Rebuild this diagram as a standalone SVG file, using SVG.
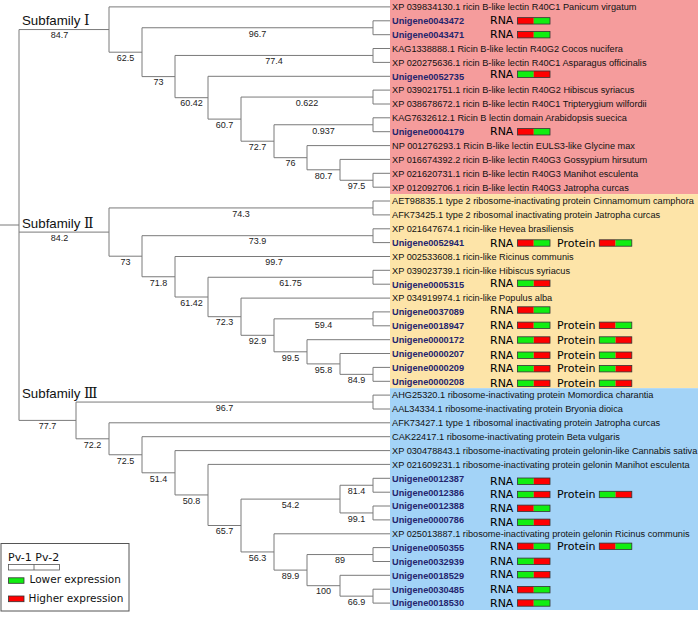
<svg xmlns="http://www.w3.org/2000/svg" xmlns:xlink="http://www.w3.org/1999/xlink" width="700" height="620" viewBox="0 0 700 620">
<style>
.lbl{font-family:"Liberation Sans",Arial,sans-serif;font-size:9.2px;fill:#111}
.ug{font-weight:bold;fill:#25256e}
.bs{font-family:"Liberation Sans",Arial,sans-serif;font-size:9px;fill:#222;text-anchor:middle}
.ex{font-family:"DejaVu Sans",Verdana,sans-serif;font-size:11px;fill:#000}
.sf{font-family:"Liberation Sans","Noto Sans CJK SC",sans-serif;font-size:13.3px;fill:#111}
.rn{font-family:"DejaVu Serif","Liberation Serif","Noto Sans CJK SC",serif;font-size:14px}
.lg{font-family:"DejaVu Sans",Verdana,sans-serif;font-size:10.5px;fill:#111}
.br{fill:none;stroke:#7a7a7a;stroke-width:1}
</style>
<defs>
<g id="rg"><rect x="0" y="0" width="16.25" height="6.4" fill="#f00"/><rect x="16.25" y="0" width="16.25" height="6.4" fill="#11ee11"/><rect x="0" y="0" width="32.5" height="6.4" fill="none" stroke="#333" stroke-width="0.8"/></g>
<g id="gr"><rect x="0" y="0" width="16.25" height="6.4" fill="#11ee11"/><rect x="16.25" y="0" width="16.25" height="6.4" fill="#f00"/><rect x="0" y="0" width="32.5" height="6.4" fill="none" stroke="#333" stroke-width="0.8"/></g>
</defs>
<rect width="700" height="620" fill="#fff"/>
<g id="backgrounds">
<rect x="390" y="0" width="308" height="194.1" fill="#f59c9c"/>
<rect x="390" y="194.1" width="308" height="194.1" fill="#fde4a8"/>
<rect x="390" y="388.2" width="308" height="221.8" fill="#a3d3f7"/>
</g>
<g id="connectors" class="br">
<path d="M0,225H19M19,29.55V420.4M19,29.55H109M19,232.1H109M19,420.4H76"/>
<path d="M109,6.9V52.2M109,6.9H390M109,52.2H142"/>
<path d="M142,27.75V76.6M142,27.75H373M142,76.6H175"/>
<path d="M373,20.8V34.7M373,20.8H390M373,34.7H390"/>
<path d="M175,55.45V97.7M175,55.45H373M175,97.7H208"/>
<path d="M373,48.5V62.4M373,48.5H390M373,62.4H390"/>
<path d="M208,76.3V119.1M208,76.3H390M208,119.1H241"/>
<path d="M241,97.05V141.2M241,97.05H373M241,141.2H274"/>
<path d="M373,90.1V104M373,90.1H390M373,104H390"/>
<path d="M274,124.75V157.7M274,124.75H373M274,157.7H307"/>
<path d="M373,117.8V131.7M373,117.8H390M373,131.7H390"/>
<path d="M307,145.6V169.8M307,145.6H390M307,169.8H340"/>
<path d="M340,159.4V180.25M340,159.4H390M340,180.25H373"/>
<path d="M373,173.3V187.2M373,173.3H390M373,187.2H390"/>
<path d="M109,207.95V256.2M109,207.95H373M109,256.2H142"/>
<path d="M373,201V214.9M373,201H390M373,214.9H390"/>
<path d="M142,235.7V276.75M142,235.7H373M142,276.75H175"/>
<path d="M373,228.8V242.6M373,228.8H390M373,242.6H390"/>
<path d="M175,256.5V297M175,256.5H390M175,297H208"/>
<path d="M208,277.25V316.7M208,277.25H373M208,316.7H241"/>
<path d="M373,270.3V284.2M373,270.3H390M373,284.2H390"/>
<path d="M241,298.1V335.3M241,298.1H390M241,335.3H274"/>
<path d="M274,318.85V351.8M274,318.85H373M274,351.8H307"/>
<path d="M373,311.9V325.8M373,311.9H390M373,325.8H390"/>
<path d="M307,339.7V363.9M307,339.7H390M307,363.9H340"/>
<path d="M340,353.5V374.35M340,353.5H390M340,374.35H373"/>
<path d="M373,367.4V381.3M373,367.4H390M373,381.3H390"/>
<path d="M76,402.05V438.8M76,402.05H373M76,438.8H109"/>
<path d="M373,395.1V409M373,395.1H390M373,409H390"/>
<path d="M109,422.8V454.75M109,422.8H390M109,454.75H142"/>
<path d="M142,436.7V472.8M142,436.7H390M142,472.8H175"/>
<path d="M175,450.6V494.95M175,450.6H390M175,494.95H208"/>
<path d="M208,464.4V525.5M208,464.4H390M208,525.5H241"/>
<path d="M241,499.1V551.95M241,499.1H340M241,551.95H274"/>
<path d="M340,485.25V512.95M340,485.25H373M340,512.95H373"/>
<path d="M373,478.3V492.2M373,478.3H390M373,492.2H390"/>
<path d="M373,506V519.9M373,506H390M373,519.9H390"/>
<path d="M274,533.8V570.1M274,533.8H390M274,570.1H307"/>
<path d="M307,554.55V585.7M307,554.55H373M307,585.7H340"/>
<path d="M373,547.6V561.5M373,547.6H390M373,561.5H390"/>
<path d="M340,575.3V596.15M340,575.3H390M340,596.15H373"/>
<path d="M373,589.2V603.1M373,589.2H390M373,603.1H390"/>
</g>
<g id="support-values" class="bs">
<text x="59.5" y="38.3">84.7</text>
<text x="125.5" y="60.9">62.5</text>
<text x="257.5" y="36.5">96.7</text>
<text x="158.5" y="85.3">73</text>
<text x="274" y="64.2">77.4</text>
<text x="191.5" y="106.4">60.42</text>
<text x="224.5" y="127.8">60.7</text>
<text x="307" y="105.8">0.622</text>
<text x="257.5" y="149.9">72.7</text>
<text x="323.5" y="133.5">0.937</text>
<text x="290.5" y="166.4">76</text>
<text x="323.5" y="178.5">80.7</text>
<text x="356.5" y="189">97.5</text>
<text x="59.5" y="240.8">84.2</text>
<text x="241" y="216.7">74.3</text>
<text x="125.5" y="264.9">73</text>
<text x="257.5" y="244.4">73.9</text>
<text x="158.5" y="285.5">71.8</text>
<text x="274" y="265.2">99.7</text>
<text x="191.5" y="305.7">61.42</text>
<text x="290.5" y="286">61.75</text>
<text x="224.5" y="325.4">72.3</text>
<text x="257.5" y="344">92.9</text>
<text x="323.5" y="327.6">59.4</text>
<text x="290.5" y="360.5">99.5</text>
<text x="323.5" y="372.6">95.8</text>
<text x="356.5" y="383.1">84.9</text>
<text x="47.5" y="429.1">77.7</text>
<text x="224.5" y="410.8">96.7</text>
<text x="92.5" y="447.5">72.2</text>
<text x="125.5" y="463.5">72.5</text>
<text x="158.5" y="481.5">51.4</text>
<text x="191.5" y="503.7">50.8</text>
<text x="224.5" y="534.2">65.7</text>
<text x="290.5" y="507.8">54.2</text>
<text x="356.5" y="494">81.4</text>
<text x="356.5" y="521.7">99.1</text>
<text x="257.5" y="560.7">56.3</text>
<text x="290.5" y="578.8">89.9</text>
<text x="340" y="563.3">89</text>
<text x="323.5" y="594.4">100</text>
<text x="356.5" y="604.9">66.9</text>
</g>
<g id="subfamilies" class="sf">
<text x="22" y="25">Subfamily <tspan class="rn">Ⅰ</tspan></text>
<text x="22" y="228">Subfamily <tspan class="rn">Ⅱ</tspan></text>
<text x="22" y="398">Subfamily <tspan class="rn">Ⅲ</tspan></text>
</g>
<g id="leaves" class="lbl">
<g id="leaf-XP039834130"><text x="392" y="10.2">XP 039834130.1 ricin B-like lectin R40C1 Panicum virgatum</text></g>
<g id="leaf-Unigene0043472"><text class="ug" x="392" y="24.1">Unigene0043472</text><text class="ex" x="490" y="24.4">RNA</text><use xlink:href="#rg" x="517.5" y="17.65"/></g>
<g id="leaf-Unigene0043471"><text class="ug" x="392" y="38">Unigene0043471</text><text class="ex" x="490" y="38.2">RNA</text><use xlink:href="#rg" x="517.5" y="31.5"/></g>
<g id="leaf-KAG1338888"><text x="392" y="51.8">KAG1338888.1 Ricin B-like lectin R40G2 Cocos nucifera</text></g>
<g id="leaf-XP020275636"><text x="392" y="65.7">XP 020275636.1 ricin B-like lectin R40C1 Asparagus officinalis</text></g>
<g id="leaf-Unigene0052735"><text class="ug" x="392" y="79.6">Unigene0052735</text><text class="ex" x="490" y="77.7">RNA</text><use xlink:href="#gr" x="517.5" y="71"/></g>
<g id="leaf-XP039021751"><text x="392" y="93.4">XP 039021751.1 ricin B-like lectin R40G2 Hibiscus syriacus</text></g>
<g id="leaf-XP038678672"><text x="392" y="107.3">XP 038678672.1 ricin B-like lectin R40C1 Tripterygium wilfordii</text></g>
<g id="leaf-KAG7632612"><text x="392" y="121.1">KAG7632612.1 Ricin B lectin domain Arabidopsis suecica</text></g>
<g id="leaf-Unigene0004179"><text class="ug" x="392" y="135">Unigene0004179</text><text class="ex" x="490" y="135.3">RNA</text><use xlink:href="#rg" x="517.5" y="128.6"/></g>
<g id="leaf-NP001276293"><text x="392" y="148.9">NP 001276293.1 Ricin B-like lectin EULS3-like Glycine max</text></g>
<g id="leaf-XP016674392"><text x="392" y="162.7">XP 016674392.2 ricin B-like lectin R40G3 Gossypium hirsutum</text></g>
<g id="leaf-XP021620731"><text x="392" y="176.6">XP 021620731.1 ricin B-like lectin R40G3 Manihot esculenta</text></g>
<g id="leaf-XP012092706"><text x="392" y="190.5">XP 012092706.1 ricin B-like lectin R40G3 Jatropha curcas</text></g>
<g id="leaf-AET98835"><text x="392" y="204.3">AET98835.1 type 2 ribosome-inactivating protein Cinnamomum camphora</text></g>
<g id="leaf-AFK73425"><text x="392" y="218.2">AFK73425.1 type 2 ribosomal inactivating protein Jatropha curcas</text></g>
<g id="leaf-XP021647674"><text x="392" y="232.1">XP 021647674.1 ricin-like Hevea brasiliensis</text></g>
<g id="leaf-Unigene0052941"><text class="ug" x="392" y="245.9">Unigene0052941</text><text class="ex" x="490" y="246.5">RNA</text><use xlink:href="#rg" x="517.5" y="239.8"/><text class="ex" x="557" y="246.5">Protein</text><use xlink:href="#rg" x="599.3" y="239.8"/></g>
<g id="leaf-XP002533608"><text x="392" y="259.8">XP 002533608.1 ricin-like Ricinus communis</text></g>
<g id="leaf-XP039023739"><text x="392" y="273.6">XP 039023739.1 ricin-like Hibiscus syriacus</text></g>
<g id="leaf-Unigene0005315"><text class="ug" x="392" y="287.5">Unigene0005315</text><text class="ex" x="490" y="286.8">RNA</text><use xlink:href="#gr" x="517.5" y="280.1"/></g>
<g id="leaf-XP034919974"><text x="392" y="301.4">XP 034919974.1 ricin-like Populus alba</text></g>
<g id="leaf-Unigene0037089"><text class="ug" x="392" y="315.2">Unigene0037089</text><text class="ex" x="490" y="313.5">RNA</text><use xlink:href="#rg" x="517.5" y="306.8"/></g>
<g id="leaf-Unigene0018947"><text class="ug" x="392" y="329.1">Unigene0018947</text><text class="ex" x="490" y="328.8">RNA</text><use xlink:href="#rg" x="517.5" y="322.1"/><text class="ex" x="557" y="328.8">Protein</text><use xlink:href="#rg" x="599.3" y="322.1"/></g>
<g id="leaf-Unigene0000172"><text class="ug" x="392" y="343">Unigene0000172</text><text class="ex" x="490" y="343.5">RNA</text><use xlink:href="#gr" x="517.5" y="336.8"/><text class="ex" x="557" y="343.5">Protein</text><use xlink:href="#gr" x="599.3" y="336.8"/></g>
<g id="leaf-Unigene0000207"><text class="ug" x="392" y="356.8">Unigene0000207</text><text class="ex" x="490" y="358.7">RNA</text><use xlink:href="#gr" x="517.5" y="352"/><text class="ex" x="557" y="358.7">Protein</text><use xlink:href="#gr" x="599.3" y="352"/></g>
<g id="leaf-Unigene0000209"><text class="ug" x="392" y="370.7">Unigene0000209</text><text class="ex" x="490" y="372.2">RNA</text><use xlink:href="#gr" x="517.5" y="365.5"/><text class="ex" x="557" y="372.2">Protein</text><use xlink:href="#gr" x="599.3" y="365.5"/></g>
<g id="leaf-Unigene0000208"><text class="ug" x="392" y="384.6">Unigene0000208</text><text class="ex" x="490" y="386.8">RNA</text><use xlink:href="#gr" x="517.5" y="380.1"/><text class="ex" x="557" y="386.8">Protein</text><use xlink:href="#gr" x="599.3" y="380.1"/></g>
<g id="leaf-AHG25320"><text x="392" y="398.4">AHG25320.1 ribosome-inactivating protein Momordica charantia</text></g>
<g id="leaf-AAL34334"><text x="392" y="412.3">AAL34334.1 ribosome-inactivating protein Bryonia dioica</text></g>
<g id="leaf-AFK73427"><text x="392" y="426.1">AFK73427.1 type 1 ribosomal inactivating protein Jatropha curcas</text></g>
<g id="leaf-CAK22417"><text x="392" y="440">CAK22417.1 ribosome-inactivating protein Beta vulgaris</text></g>
<g id="leaf-XP030478843"><text x="392" y="453.9">XP 030478843.1 ribosome-inactivating protein gelonin-like Cannabis sativa</text></g>
<g id="leaf-XP021609231"><text x="392" y="467.7">XP 021609231.1 ribosome-inactivating protein gelonin Manihot esculenta</text></g>
<g id="leaf-Unigene0012387"><text class="ug" x="392" y="481.6">Unigene0012387</text><text class="ex" x="490" y="484.7">RNA</text><use xlink:href="#gr" x="517.5" y="478"/></g>
<g id="leaf-Unigene0012386"><text class="ug" x="392" y="495.5">Unigene0012386</text><text class="ex" x="490" y="498">RNA</text><use xlink:href="#gr" x="517.5" y="491.3"/><text class="ex" x="557" y="498">Protein</text><use xlink:href="#gr" x="599.3" y="491.3"/></g>
<g id="leaf-Unigene0012388"><text class="ug" x="392" y="509.3">Unigene0012388</text><text class="ex" x="490" y="511.8">RNA</text><use xlink:href="#rg" x="517.5" y="505.1"/></g>
<g id="leaf-Unigene0000786"><text class="ug" x="392" y="523.2">Unigene0000786</text><text class="ex" x="490" y="525.8">RNA</text><use xlink:href="#gr" x="517.5" y="519.1"/></g>
<g id="leaf-XP025013887"><text x="392" y="537.1">XP 025013887.1 ribosome-inactivating protein gelonin Ricinus communis</text></g>
<g id="leaf-Unigene0050355"><text class="ug" x="392" y="550.9">Unigene0050355</text><text class="ex" x="490" y="549.8">RNA</text><use xlink:href="#rg" x="517.5" y="543.1"/><text class="ex" x="557" y="549.8">Protein</text><use xlink:href="#rg" x="599.3" y="543.1"/></g>
<g id="leaf-Unigene0032939"><text class="ug" x="392" y="564.8">Unigene0032939</text><text class="ex" x="490" y="564.8">RNA</text><use xlink:href="#gr" x="517.5" y="558.1"/></g>
<g id="leaf-Unigene0018529"><text class="ug" x="392" y="578.6">Unigene0018529</text><text class="ex" x="490" y="578.2">RNA</text><use xlink:href="#gr" x="517.5" y="571.5"/></g>
<g id="leaf-Unigene0030485"><text class="ug" x="392" y="592.5">Unigene0030485</text><text class="ex" x="490" y="593.2">RNA</text><use xlink:href="#rg" x="517.5" y="586.5"/></g>
<g id="leaf-Unigene0018530"><text class="ug" x="392" y="606.4">Unigene0018530</text><text class="ex" x="490" y="606.5">RNA</text><use xlink:href="#rg" x="517.5" y="599.8"/></g>
</g>
<g id="legend">
<rect x="1" y="543.5" width="128" height="67.5" fill="#fff" stroke="#555" stroke-width="1"/>
<text class="lg" x="8" y="560.5" style="font-size:11px">Pv-1 Pv-2</text>
<rect x="8.5" y="564.5" width="51" height="5.5" fill="#fff" stroke="#555" stroke-width="0.8"/>
<path d="M34,564.5V570" stroke="#555" stroke-width="0.8"/>
<rect x="8.5" y="577.8" width="15.5" height="5.5" fill="#11ee11" stroke="#333" stroke-width="0.8"/>
<text class="lg" x="29.5" y="583.3">Lower expression</text>
<rect x="8.5" y="596" width="15.5" height="5.7" fill="#f00" stroke="#333" stroke-width="0.8"/>
<text class="lg" x="28.5" y="601.7">Higher expression</text>
</g>
</svg>
